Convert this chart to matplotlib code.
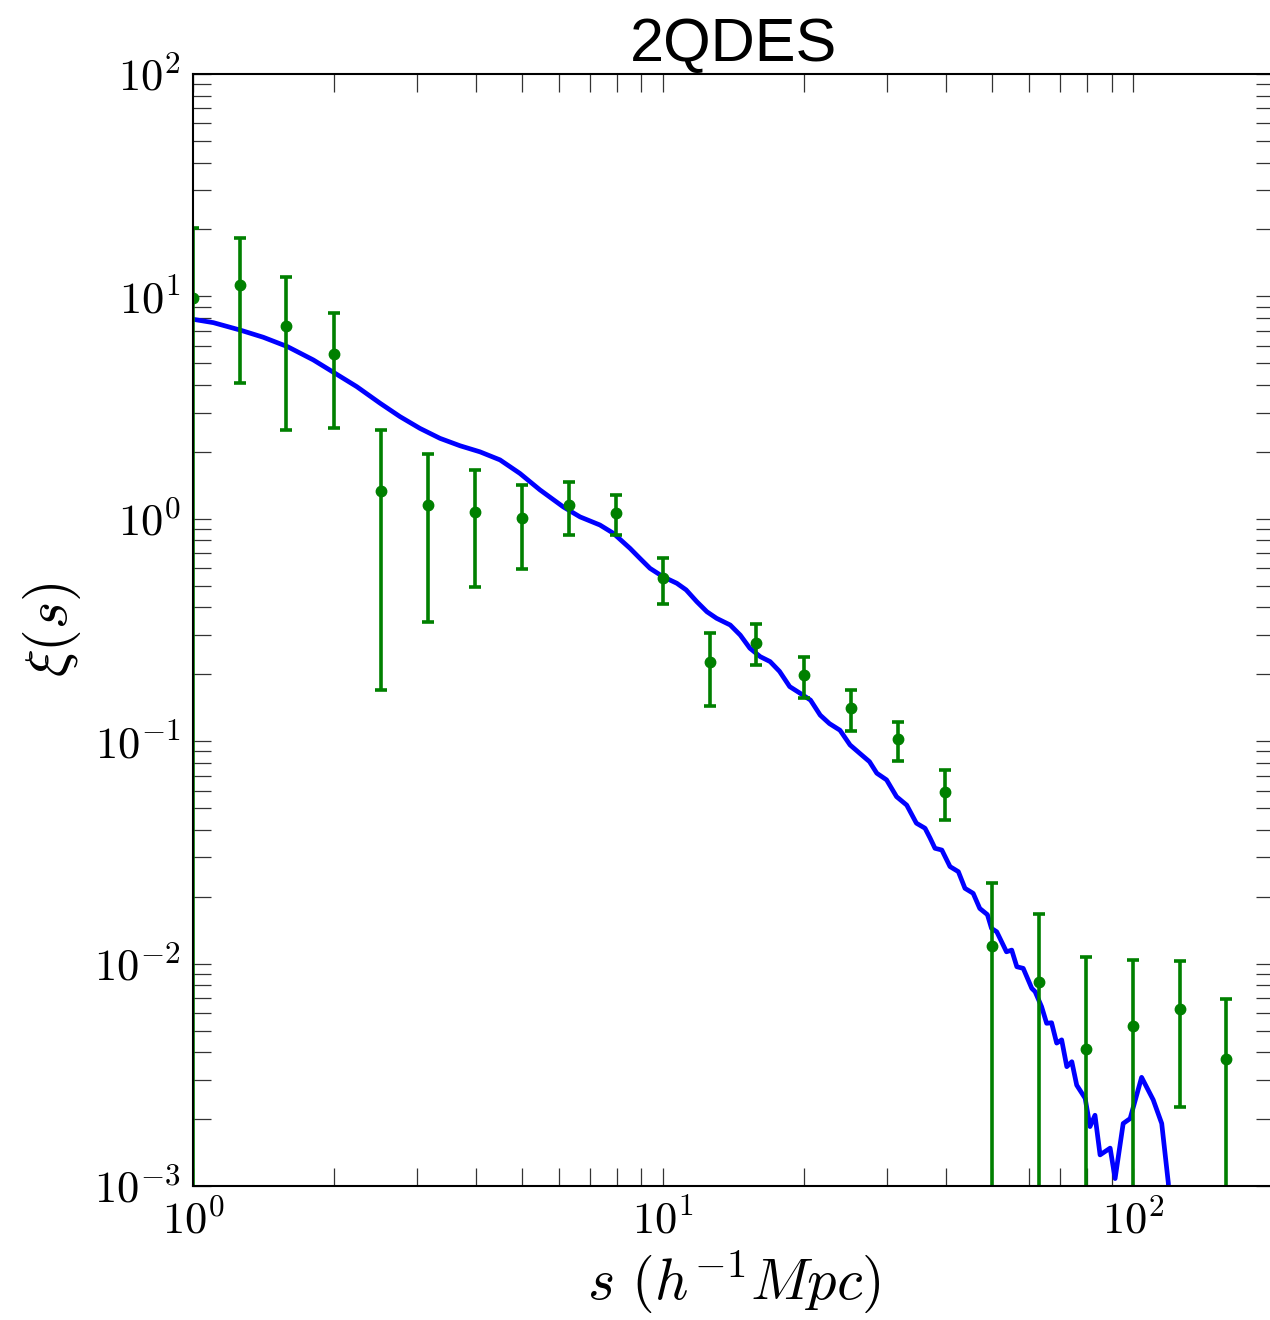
import numpy as np
import matplotlib
matplotlib.use("Agg")
import matplotlib.pyplot as plt
from matplotlib.ticker import LogLocator, FuncFormatter, NullFormatter

plt.rcParams['mathtext.fontset'] = 'cm'

# measured correlation function (2QDES)
s_obs = [1.0, 1.26, 1.58, 2.0, 2.51, 3.16, 3.98, 5.01, 6.31, 7.94, 10.0, 12.6,
         15.8, 20.0, 25.1, 31.6, 39.8, 50.1, 63.1, 79.4, 100.0, 126.0, 158.0]
xi_obs = [9.85, 11.2, 7.36, 5.49, 1.34, 1.153, 1.076, 1.005, 1.153, 1.059, 0.540,
          0.226, 0.277, 0.198, 0.1406, 0.102, 0.0593, 0.0120, 0.00824, 0.00412,
          0.00523, 0.00627, 0.00371]
xi_err = [10.45, 7.1, 4.84, 2.93, 1.17, 0.81, 0.58, 0.41, 0.305, 0.215, 0.125,
          0.082, 0.058, 0.041, 0.0295, 0.0205, 0.015, 0.0111, 0.0084, 0.0066,
          0.0051, 0.0040, 0.0032]

# model curve
s_mod = [1.0, 1.105, 1.259, 1.411, 1.59, 1.803, 2.006, 2.23, 2.50, 2.757, 3.04,
         3.354, 3.70, 4.08, 4.50, 4.96, 5.47, 6.14, 6.66, 7.34, 7.84, 8.51, 8.93,
         9.38, 10.0, 10.7, 11.2, 11.8, 12.4, 13.0, 13.9, 14.6, 15.3, 16.1, 16.9,
         17.7, 18.6, 19.6, 20.6, 21.6, 22.6, 23.8, 25.0, 26.2, 27.5, 28.5, 29.9,
         31.4, 33.0, 34.6, 36.1, 37.0, 37.9, 39.2, 40.8, 42.5, 43.9, 45.7, 47.2,
         49.0, 50.0, 51.3, 53.8, 55.2, 56.6, 58.4, 60.9, 61.9, 63.9, 65.5, 67.1,
         68.8, 70.5, 72.3, 74.1, 75.9, 79.1, 81.0, 83.0, 85.1, 89.4, 91.6, 95.3,
         98.6, 104.3, 110.4, 115.1, 118.9, 121.0]
xi_mod = [7.89, 7.62, 7.06, 6.55, 5.94, 5.18, 4.51, 3.93, 3.31, 2.88, 2.55,
          2.30, 2.13, 2.00, 1.84, 1.60, 1.35, 1.13, 1.02, 0.938, 0.861, 0.736,
          0.664, 0.599, 0.549, 0.513, 0.479, 0.424, 0.382, 0.357, 0.333, 0.300,
          0.262, 0.240, 0.228, 0.206, 0.176, 0.164, 0.153, 0.131, 0.120, 0.112,
          0.0962, 0.0883, 0.0809, 0.0718, 0.0670, 0.0563, 0.0516, 0.0428, 0.0406,
          0.0367, 0.0330, 0.0324, 0.0273, 0.0259, 0.0218, 0.0207, 0.0177, 0.0166,
          0.0144, 0.0139, 0.0113, 0.0115, 0.00968, 0.00952, 0.00774, 0.00748,
          0.00640, 0.00539, 0.00542, 0.00439, 0.00454, 0.00344, 0.00362, 0.00284,
          0.00248, 0.00185, 0.00208, 0.00138, 0.00148, 0.00108, 0.00191, 0.00201,
          0.00308, 0.00244, 0.00191, 0.00103, 0.0004]

fig = plt.figure(figsize=(12.7, 13.2), dpi=100)
ax = fig.add_axes([0.15197, 0.10152, 0.85157, 0.84242])

ax.plot(s_mod, xi_mod, color='b', lw=3.4, solid_joinstyle='round')
ax.errorbar(s_obs, xi_obs, yerr=xi_err, fmt='o', color='g', ms=7.5,
            elinewidth=2.6, capsize=4.5, capthick=2.6)

ax.set_xscale('log')
ax.set_yscale('log')
ax.set_xlim(1, 200)
ax.set_ylim(1e-3, 1e2)

fmt = FuncFormatter(lambda v, p: r'$10^{%d}$' % int(round(np.log10(v))))
for axis in (ax.xaxis, ax.yaxis):
    axis.set_major_locator(LogLocator(base=10))
    axis.set_minor_locator(LogLocator(base=10, subs=np.arange(2, 10)))
    axis.set_major_formatter(fmt)
    axis.set_minor_formatter(NullFormatter())

ax.tick_params(which='both', direction='in', top=True, right=True,
               width=0.9, color='#333333')
ax.tick_params(which='major', length=13, labelsize=32)
ax.tick_params(which='minor', length=13)
ax.tick_params(axis='x', which='major', pad=10)
ax.tick_params(axis='y', which='major', pad=9)
for lbl in ax.get_yticklabels():
    lbl.set_verticalalignment('center_baseline')
for sp in ax.spines.values():
    sp.set_linewidth(1.5)

ax.set_xlabel(r'$s\ (h^{-1}Mpc)$', fontsize=42, labelpad=4)
ax.set_ylabel(r'$\xi(s)$', fontsize=42, labelpad=8)
ax.set_title('2QDES', fontsize=44, family='Liberation Sans', pad=8)

fig.savefig('out.png', dpi=100)
